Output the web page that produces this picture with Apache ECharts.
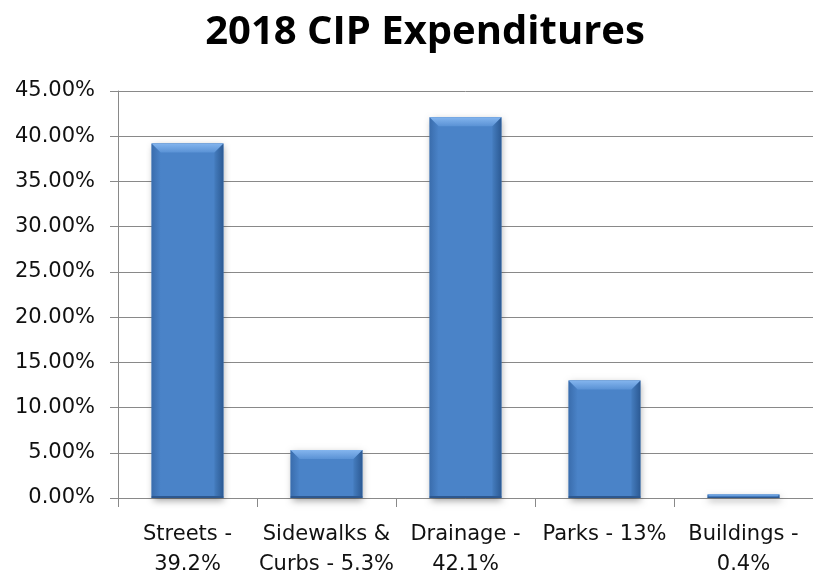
<!DOCTYPE html>
<html>
<head>
<meta charset="utf-8">
<style>
  html, body { margin: 0; padding: 0; background: #fff; }
  #chart { width: 813px; height: 580px; }
</style>
<script src="https://cdn.jsdelivr.net/npm/echarts@6/dist/echarts.min.js"></script>
</head>
<body>
<div id="chart"></div>
<script>
// Capital improvement spending by category, as a share of the total
const categories = [
  'Streets -\n39.2%',
  'Sidewalks &\nCurbs - 5.3%',
  'Drainage -\n42.1%',
  'Parks - 13%',
  'Buildings -\n0.4%'
];
const shares = [0.392, 0.053, 0.421, 0.13, 0.004];
const yTicks = { min: 0, max: 0.45, step: 0.05 };

const labelFont = 'DejaVu Sans';
const lineColor = '#898989';

// Bevelled bar: flat face, light top bevel, shaded sides, soft shadow
function renderBevelBar(params, api) {
  const idx = api.value(0);
  const val = api.value(1);
  const top = api.coord([idx, val]);
  const base = api.coord([idx, 0]);
  const bw = api.size([1, 0])[0] * 0.515;
  const x0 = top[0] - bw / 2, x1 = top[0] + bw / 2;
  const y0 = top[1], y1 = base[1];
  const h = y1 - y0;
  const b = Math.min(9, h / 2);
  const children = [
    { type: 'rect', shape: { x: x0, y: y0, width: bw, height: h },
      style: { fill: '#3f73b2', shadowBlur: 7, shadowOffsetY: 3, shadowOffsetX: 1,
               shadowColor: 'rgba(0,0,0,0.35)' } },
    { type: 'rect', shape: { x: x0, y: y0, width: bw, height: h },
      style: { fill: '#4a83c8' } },
    // left side
    { type: 'polygon', shape: { points: [[x0, y0], [x0 + b, y0 + b], [x0 + b, y1], [x0, y1]] },
      style: { fill: { type: 'linear', x: 0, y: 0, x2: 1, y2: 0,
        colorStops: [{ offset: 0, color: '#3a6dad' }, { offset: 1, color: '#4a83c8' }] } } },
    // right side
    { type: 'polygon', shape: { points: [[x1, y0], [x1 - b, y0 + b], [x1 - b, y1], [x1, y1]] },
      style: { fill: { type: 'linear', x: 0, y: 0, x2: 1, y2: 0,
        colorStops: [{ offset: 0, color: '#457dbf' }, { offset: 1, color: '#2c5a94' }] } } },
    // top bevel
    { type: 'polygon', shape: { points: [[x0, y0], [x1, y0], [x1 - b, y0 + b], [x0 + b, y0 + b]] },
      style: { fill: { type: 'linear', x: 0, y: 0, x2: 0, y2: 1,
        colorStops: [{ offset: 0, color: '#84b5ee' }, { offset: 1, color: '#5a92d5' }] } } },
    // bottom edge
    { type: 'rect', shape: { x: x0, y: y1 - Math.min(2, h / 3), width: bw, height: Math.min(2, h / 3) },
      style: { fill: '#2d5890' } }
  ];
  return { type: 'group', children: children };
}

const chart = echarts.init(document.getElementById('chart'), null, { renderer: 'canvas' });
chart.setOption({
  backgroundColor: '#ffffff',
  animation: false,
  title: {
    text: '2018 CIP Expenditures',
    left: 420,
    textAlign: 'center',
    top: 8,
    textStyle: { fontFamily: 'Open Sans', fontWeight: 'bold', fontSize: 40, color: '#000' }
  },
  grid: { left: 118, right: 0, top: 91, bottom: 78, containLabel: false },
  xAxis: {
    type: 'category',
    data: categories,
    boundaryGap: true,
    axisLine: { lineStyle: { color: lineColor, width: 1 } },
    axisTick: { show: true, length: 9, alignWithLabel: false, lineStyle: { color: lineColor } },
    axisLabel: {
      interval: 0, margin: 22, color: '#111',
      fontFamily: labelFont, fontSize: 21, lineHeight: 30
    }
  },
  yAxis: {
    type: 'value',
    min: yTicks.min, max: yTicks.max, interval: yTicks.step,
    axisLine: { show: true, lineStyle: { color: lineColor, width: 1 } },
    axisTick: { show: true, length: 8, lineStyle: { color: lineColor } },
    splitLine: { show: true, lineStyle: { color: lineColor, width: 1 } },
    axisLabel: {
      margin: 23, color: '#111', fontFamily: labelFont, fontSize: 21,
      formatter: v => (v * 100).toFixed(2) + '%'
    }
  },
  series: [{
    type: 'custom',
    renderItem: renderBevelBar,
    encode: { x: 0, y: 1 },
    data: shares.map((v, i) => [i, v]),
    clip: false
  }]
});
</script>
</body>
</html>
